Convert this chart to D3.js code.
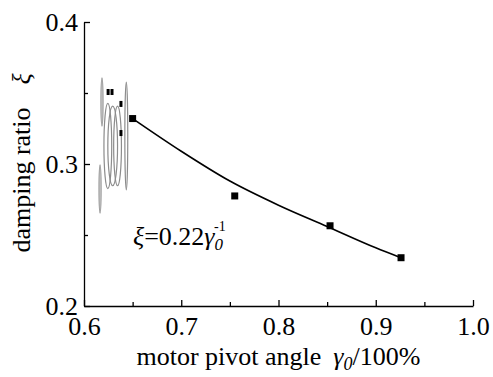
<!DOCTYPE html>
<html>
<head>
<meta charset="utf-8">
<script src="https://cdn.jsdelivr.net/npm/d3@7"></script>
<style>
  body { margin: 0; background: #fff; }
  svg { display: block; }
  text { font-family: "Liberation Serif", "Times New Roman", "DejaVu Serif", serif; fill: #000; }
</style>
</head>
<body>
<div id="chart"></div>
<script>
// measured points: motor pivot angle (fraction) vs damping ratio
var gamma = [0.65, 0.755, 0.853, 0.926];
var xi = [0.332, 0.2775, 0.2565, 0.234];

// fitted curve
var fitGamma = [0.65, 0.70, 0.75, 0.80, 0.85, 0.90, 0.926];
var fitXi = [0.332, 0.309, 0.288, 0.271, 0.256, 0.241, 0.234];

// garbled cluster at the left of the plot (small squares)
var clusterGamma = [0.6248, 0.6288, 0.638, 0.638];
var clusterXi = [0.3507, 0.3507, 0.3423, 0.3218];

// grey streaks (centre gamma, centre xi, half width gamma, half height xi)
var streakGamma = [0.6185, 0.6165, 0.6245, 0.6295, 0.6345, 0.6435];
var streakXi = [0.3437, 0.2824, 0.3127, 0.3127, 0.3127, 0.3197];
var streakRx = [0.001, 0.001, 0.004, 0.005, 0.004, 0.0015];
var streakRy = [0.017, 0.017, 0.030, 0.028, 0.028, 0.038];

var xMajor = [0.6, 0.7, 0.8, 0.9, 1.0];
var xMinor = [0.65, 0.75, 0.85, 0.95];
var yMajor = [0.2, 0.3, 0.4];
var yMinor = [0.25, 0.35];

var W = 493, H = 377;
var margin = {top: 22, right: 20, bottom: 71, left: 84},
    width = 473 - margin.left,
    height = 306 - margin.top;

var svg = d3.select("#chart")
  .append("svg")
    .attr("width", W)
    .attr("height", H);

var g = svg.append("g")
    .attr("transform", "translate(" + margin.left + "," + margin.top + ")");

var x = d3.scaleLinear().domain([0.6, 1.0]).range([0, width]);
var y = d3.scaleLinear().domain([0.2, 0.4]).range([height, 0]);

// x axis
g.append("g")
    .attr("transform", "translate(0," + height + ")")
    .call(d3.axisBottom(x).tickValues(xMajor).tickSize(-6).tickSizeOuter(0)
      .tickPadding(11).tickFormat(d3.format(".1f")));
g.append("g")
    .attr("transform", "translate(0," + height + ")")
    .call(d3.axisBottom(x).tickValues(xMinor).tickSize(-4).tickFormat(""))
    .select(".domain").remove();

// y axis
g.append("g")
    .call(d3.axisLeft(y).tickValues(yMajor).tickSize(-6).tickSizeOuter(0)
      .tickPadding(6).tickFormat(d3.format(".1f")));
g.append("g")
    .call(d3.axisLeft(y).tickValues(yMinor).tickSize(-4).tickFormat(""))
    .select(".domain").remove();

g.selectAll(".tick text")
    .attr("font-family", null)
    .style("font-size", "26px")
    .style("font-family", "'Liberation Serif', 'Times New Roman', serif");
g.selectAll(".domain, .tick line")
    .attr("stroke", "#000")
    .attr("stroke-width", 1.3);

// grey streaks
g.append("g")
  .selectAll("ellipse")
  .data(streakGamma)
  .join("ellipse")
    .attr("cx", function(d) { return x(d); })
    .attr("cy", function(d, i) { return y(streakXi[i]); })
    .attr("rx", function(d, i) { return x(0.6 + streakRx[i]); })
    .attr("ry", function(d, i) { return y(0.4 - streakRy[i]); })
    .attr("fill", "none")
    .attr("stroke", "#8c8c8c")
    .attr("stroke-width", 1.2);

// cluster squares
g.append("g")
  .selectAll("rect")
  .data(clusterGamma)
  .join("rect")
    .attr("x", function(d) { return x(d) - 1.5; })
    .attr("y", function(d, i) { return y(clusterXi[i]) - 3; })
    .attr("width", 3)
    .attr("height", 6)
    .attr("fill", "#000");

// fitted curve
var fit = fitGamma.map(function(d, i) { return [d, fitXi[i]]; });
g.append("path")
    .datum(fit)
    .attr("fill", "none")
    .attr("stroke", "#000")
    .attr("stroke-width", 1.6)
    .attr("d", d3.line()
      .x(function(d) { return x(d[0]); })
      .y(function(d) { return y(d[1]); })
      .curve(d3.curveMonotoneX));

// data squares
g.append("g")
  .selectAll("rect")
  .data(gamma)
  .join("rect")
    .attr("x", function(d) { return x(d) - 3.5; })
    .attr("y", function(d, i) { return y(xi[i]) - 3.5; })
    .attr("width", 7)
    .attr("height", 7)
    .attr("fill", "#000");

// equation
var eq = g.append("text")
    .attr("x", 133 - margin.left)
    .attr("y", 245 - margin.top)
    .style("font-size", "26px");
eq.append("tspan").style("font-style", "italic").text("\u03be");
eq.append("tspan").text("=0.22");
eq.append("tspan").style("font-style", "italic").text("\u03b3");
eq.append("tspan").style("font-style", "italic").style("font-size", "17px")
    .attr("dy", 5).text("0");
eq.append("tspan").style("font-size", "14px")
    .attr("dx", -9).attr("dy", -19).text("-1");

// axis titles
var xt = svg.append("text")
    .attr("x", margin.left + width / 2)
    .attr("y", 365)
    .attr("text-anchor", "middle")
    .style("font-size", "26px");
xt.append("tspan").text("motor pivot angle");
xt.append("tspan").attr("dx", 12).style("font-style", "italic").text("\u03b3");
xt.append("tspan").style("font-style", "italic").style("font-size", "18px")
    .attr("dy", 5).text("0");
xt.append("tspan").attr("dy", -5).text("/100%");

svg.append("text")
    .attr("transform", "translate(30,180)rotate(-90)")
    .attr("text-anchor", "middle")
    .style("font-size", "26px")
    .text("damping ratio");
svg.append("text")
    .attr("transform", "translate(30,79)rotate(-90)")
    .attr("text-anchor", "middle")
    .style("font-size", "26px")
    .style("font-style", "italic")
    .text("\u03be");
</script>
</body>
</html>
